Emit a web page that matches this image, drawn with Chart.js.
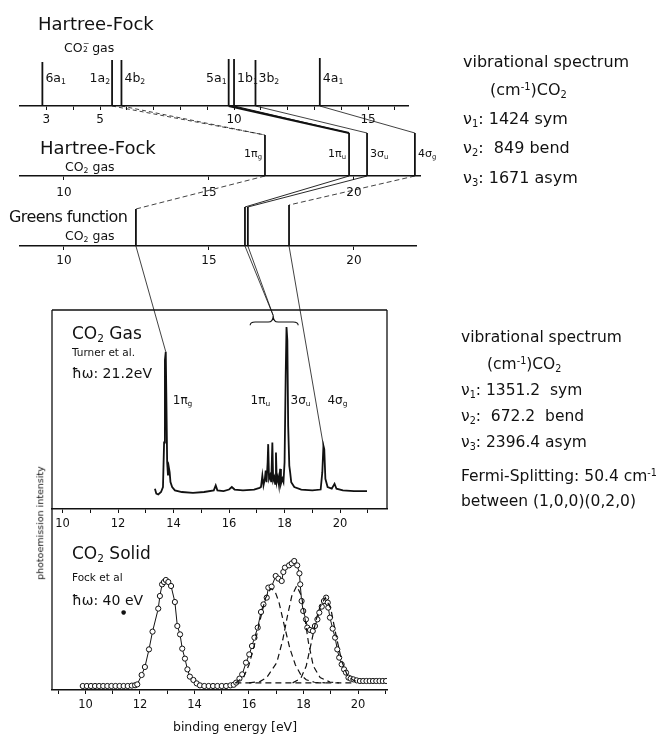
<!DOCTYPE html>
<html><head><meta charset="utf-8"><title>CO2 photoemission</title>
<script src="https://cdn.jsdelivr.net/npm/chart.js@4.4.1/dist/chart.umd.min.js"></script>
<style>
html,body{margin:0;padding:0;background:#fff;}
#wrap{position:relative;width:671px;height:735px;overflow:hidden;font-family:"DejaVu Sans",sans-serif;color:#111;}
#wrap canvas{position:absolute;left:0;top:0;}
.t{position:absolute;white-space:nowrap;line-height:1;transform:translateY(-50%);}
.t.r{transform:translate(-100%,-50%);}
.t sub{font-size:0.62em;vertical-align:-0.3em;line-height:0;}
.t sup{font-size:0.62em;vertical-align:0.55em;line-height:0;}
.st{display:inline-block;position:relative;width:0.45em;height:1em;vertical-align:top;}
.st i{font-style:normal;position:absolute;left:0.04em;font-size:0.62em;line-height:1;}
</style></head><body>
<div id="wrap">
<canvas id="p1" width="671" height="735"></canvas>
<canvas id="p2" width="671" height="735"></canvas>
<canvas id="p3" width="671" height="735"></canvas>
<canvas id="p4" width="671" height="735"></canvas>
<canvas id="p5" width="671" height="735"></canvas>
<canvas id="ov" width="671" height="735"></canvas>
</div>
<script>
// ---------------- DATA ----------------
// Hartree-Fock, CO2- gas (eV)
const anionLevels   = ['6a1','1a2','4b2','5a1','1b1','3b2','4a1'];
const anionEnergies = [2.85, 5.45, 5.8, 9.8, 10.0, 10.8, 13.2];
const anionHeights  = [44, 46, 46, 47, 47, 46, 48];
const anionTickLabels = [3, 5, 10, 15];
// Hartree-Fock, CO2 gas
const hfLevels   = ['1πg','1πu','3σu','4σg'];
const hfEnergies = [16.93, 19.83, 20.45, 22.10];
const hfHeights  = [41, 43, 43, 43];
const hfTickLabels = [10, 15, 20];
// Greens function, CO2 gas
const gfEnergies = [12.48, 16.24, 16.34, 17.76];
const gfHeights  = [37, 39, 39, 41];
// correlation lines
const anionToHF = [null, 0, 0, 1, 1, 2, 3];
const hfToGF    = [0, 1, 2, 3];
const gfToGasE  = [13.72, 17.59, 17.59, 19.40];
const gasTargetI = [85, 107, 107, 28];
// CO2 gas spectrum (Turner et al., 21.2 eV)
const gasE = [13.33,13.38,13.45,13.55,13.62,13.66,13.69,13.72,13.74,13.77,13.80,13.83,13.86,13.89,13.95,14.05,14.3,14.7,15.1,15.45,15.52,15.58,15.8,16.0,16.1,16.2,16.5,16.9,17.1,17.15,17.20,17.24,17.29,17.32,17.35,17.39,17.41,17.44,17.48,17.52,17.56,17.59,17.63,17.66,17.69,17.72,17.76,17.80,17.84,17.87,17.92,17.96,18.00,18.04,18.07,18.10,18.13,18.17,18.20,18.24,18.35,18.6,19.0,19.3,19.36,19.40,19.43,19.47,19.55,19.7,19.8,19.87,20.1,20.5,20.97];
const gasI = [2,-1,-1.5,0,3,30,80,85,60,18,10,15,12,6,3,1,0,-0.5,0,1,4,1,0.5,1.5,3,1.5,1,1.5,2.5,3,10,4,8,13,6,18,29,8,10,6,30,7,9,5,24,6,9,4,14,5,8,6,18,70,100,92,40,16,12,6,3,1.5,1,1.5,12,28,26,8,3,2,5,2,1,0.5,0.5];
const gasPeakE = [13.72, 17.41, 18.07, 19.40];
const gasPeakNames = ['1πg','1πu','3σu','4σg'];
const gasTickLabels = [10,12,14,16,18,20];
const braceE = [16.76, 17.59, 18.49];
const braceI = [101, 103, 107];
// CO2 solid spectrum (Fock et al, 40 eV)
const solidE = [9.90,10.05,10.20,10.35,10.50,10.65,10.80,10.95,11.10,11.25,11.40,11.55,11.70,11.82,
11.90,12.06,12.18,12.33,12.46,12.67,12.73,12.81,12.88,12.95,13.04,13.14,13.28,13.37,13.47,13.55,13.65,13.74,13.83,13.96,14.08,
14.20,14.36,14.52,14.68,14.84,15.00,15.16,15.32,15.44,
15.53,15.65,15.75,15.89,16.01,16.11,16.20,16.32,16.44,16.53,16.65,16.71,16.83,16.98,17.08,17.20,17.26,17.32,17.47,17.57,17.66,
17.77,17.85,17.88,17.93,17.99,18.09,18.14,18.24,18.34,18.42,18.51,18.58,18.67,18.75,18.83,18.89,18.91,18.97,19.07,19.16,19.24,19.31,19.40,19.49,19.56,19.65,19.73,19.83,
19.95,20.07,20.19,20.31,20.43,20.55,20.67,20.79,20.91,21.03];
const solidI = [0,0,0,0,0,0,0,0,0,0,0,0,0.3,0.6,
1.3,8.8,15.2,29.3,43.5,61.9,72,81.3,83.2,84.8,83.2,80,67.2,48,41.3,29.9,21.9,13.3,7.5,4.8,2.1,
0.5,0,0,0,0,0,0,0.5,1,
2.7,5.9,9.3,18.7,25.3,32,38.7,46.7,59.2,65.3,70.7,78.7,79.5,88,85.9,84,91.2,94.7,96.5,98.1,100,
96.5,90.1,81.3,68,60,53.3,46.7,44.8,44,48,53.3,58.7,63.5,68,70.7,66.7,62.7,54.7,45.9,38.7,29.3,22.7,17.3,13.3,10.7,6.7,5.9,5.3,
4.5,4,4,4,4,4,4,4,4,4];
const compAE = [15.5,15.8,16.0,16.2,16.4,16.6,16.8,16.95,17.1,17.3,17.5,17.7,17.9,18.1,18.4,18.8];
const compAI = [2.5,7,17,33,52,70,78,76,67,48,30,17,9,5,3,2.5];
const compBE = [16.0,16.4,16.65,17.02,17.24,17.41,17.57,17.75,17.93,18.06,18.18,18.36,18.61,18.97,19.3];
const compBI = [2.5,3.5,6.7,18.7,37,56,72,80,72,53,35,16,6.7,3.2,2.5];
const compCE = [17.6,17.9,18.1,18.3,18.45,18.6,18.8,19.0,19.2,19.4,19.6,19.8,20.0];
const compCI = [2.5,6,16,36,52,63,70.7,62,40,20,9,5,3];
const baseE = [15.5, 19.9];
const baseI = [2.5, 2.5];
const solidTickLabels = [10,12,14,16,18,20];

// ---------------- LAYOUT / HELPERS ----------------
const W = 671, H = 735, INK = '#111';
Chart.defaults.font.family = '"DejaVu Sans", sans-serif';
Chart.defaults.color = INK;
const wrap = document.getElementById('wrap');
const zip = (xs, ys) => xs.map((x, i) => ({x, y: ys[i]}));
const sub = n => n.slice(0, -1) + '<sub>' + n.slice(-1) + '</sub>';

function txt(x, y, size, html, o) {
  o = o || {};
  const d = document.createElement('div');
  d.className = 't' + (o.right ? ' r' : '');
  d.style.left = x + 'px'; d.style.top = y + 'px'; d.style.fontSize = size + 'px';
  if (o.ls) d.style.letterSpacing = o.ls + 'px';
  if (o.rot) d.style.transform = 'translate(-50%,-50%) rotate(-90deg)';
  d.innerHTML = html;
  wrap.appendChild(d);
  return d;
}

const framePlugin = {
  id: 'frame',
  afterDraw(chart, args, opts) {
    if (!opts || !opts.sides) return;
    const {ctx, chartArea: a} = chart;
    ctx.save(); ctx.strokeStyle = INK; ctx.lineWidth = 1.3;
    ctx.beginPath();
    if (opts.sides.includes('t')) { ctx.moveTo(a.left, a.top); ctx.lineTo(a.right, a.top); }
    if (opts.sides.includes('l')) { ctx.moveTo(a.left, a.top); ctx.lineTo(a.left, a.bottom); }
    if (opts.sides.includes('r')) { ctx.moveTo(a.right, a.top); ctx.lineTo(a.right, a.bottom); }
    ctx.stroke(); ctx.restore();
  }
};
const bracePlugin = {
  id: 'brace',
  afterDraw(chart, args, opts) {
    if (!opts || !opts.on) return;
    const {ctx, scales: {x, y}} = chart;
    const xl = x.getPixelForValue(braceE[0]), xc = x.getPixelForValue(braceE[1]), xr = x.getPixelForValue(braceE[2]);
    const ye = y.getPixelForValue(braceI[0]), ym = y.getPixelForValue(braceI[1]), yt = y.getPixelForValue(braceI[2]);
    ctx.save(); ctx.strokeStyle = INK; ctx.lineWidth = 1.1;
    ctx.beginPath();
    ctx.moveTo(xl, ye); ctx.quadraticCurveTo(xl, ym, xl + 5, ym);
    ctx.lineTo(xc - 5, ym); ctx.quadraticCurveTo(xc, ym, xc, yt);
    ctx.quadraticCurveTo(xc, ym, xc + 5, ym);
    ctx.lineTo(xr - 5, ym); ctx.quadraticCurveTo(xr, ym, xr, ye);
    ctx.stroke(); ctx.restore();
  }
};

function panel(id, area, xr, yr, datasets, ax) {
  return new Chart(document.getElementById(id), {
    type: 'scatter',
    data: {datasets},
    options: {
      responsive: false, animation: false, devicePixelRatio: 1, events: [],
      layout: {padding: {left: area.l, right: W - area.r, top: area.t, bottom: H - area.b - ax.h}},
      plugins: {legend: {display: false}, tooltip: {enabled: false}, frame: {sides: area.frame || ''}, brace: {on: !!area.brace}},
      scales: {
        x: {type: 'linear', min: xr[0], max: xr[1], position: 'bottom',
            afterFit: s => { s.height = ax.h; },
            border: {display: true, color: INK, width: ax.bw},
            grid: {display: true, drawOnChartArea: false, drawTicks: true, tickLength: 4, color: INK, lineWidth: 1},
            ticks: {stepSize: ax.step, includeBounds: false, autoSkip: false, maxRotation: 0, padding: ax.pad,
                    font: {size: ax.fs}, color: INK,
                    callback: v => ax.labels.includes(v) ? String(v) : ''}},
        y: {type: 'linear', min: yr[0], max: yr[1], display: false}
      }
    },
    plugins: [framePlugin, bracePlugin]
  });
}
const levelSets = (E, Hh) => E.map((e, i) => ({data: [{x: e, y: 0}, {x: e, y: Hh[i]}], showLine: true,
  borderColor: INK, borderWidth: 1.8, pointRadius: 0}));

// ---------------- PANELS ----------------
const c1 = panel('p1', {l: 20, r: 408, t: 50, b: 106}, [2.015, 16.49], [0, 56],
  levelSets(anionEnergies, anionHeights), {h: 22, bw: 1.6, step: 1, pad: 3, fs: 12, labels: anionTickLabels});
const c2 = panel('p2', {l: 20, r: 420, t: 125, b: 176}, [8.483, 22.276], [0, 51],
  levelSets(hfEnergies, hfHeights), {h: 22, bw: 1.6, step: 5, pad: 6, fs: 12, labels: hfTickLabels});
const c3 = panel('p3', {l: 20, r: 416, t: 195, b: 246}, [8.483, 22.138], [0, 51],
  levelSets(gfEnergies, gfHeights), {h: 22, bw: 1.6, step: 5, pad: 4, fs: 12, labels: hfTickLabels});
const c4 = panel('p4', {l: 52, r: 387, t: 310, b: 509, frame: 'tlr', brace: true}, [9.622, 21.69], [-10.3, 110.3],
  [{data: zip(gasE, gasI), showLine: true, borderColor: INK, borderWidth: 1.8, pointRadius: 0, tension: 0}],
  {h: 22, bw: 1.5, step: 1, pad: 4, fs: 11.5, labels: gasTickLabels});
const dash = (E, I) => ({data: zip(E, I), showLine: true, borderColor: INK, borderWidth: 1.2, borderDash: [6, 4], pointRadius: 0});
const c5 = panel('p5', {l: 52, r: 387, t: 509, b: 690, frame: 'l'}, [8.771, 21.064], [-3.2, 141.6],
  [dash(compAE, compAI), dash(compBE, compBI), dash(compCE, compCI), dash(baseE, baseI),
   {data: zip(solidE, solidI), showLine: true, borderColor: INK, borderWidth: 1, pointRadius: 2.6,
    pointBackgroundColor: '#fff', pointBorderColor: INK, pointBorderWidth: 1, tension: 0}],
  {h: 22, bw: 1.5, step: 1, pad: 4, fs: 11.5, labels: solidTickLabels});

// ---------------- CORRELATION LINES (overlay) ----------------
const P = (c, x, y) => ({x: c.scales.x.getPixelForValue(x), y: c.scales.y.getPixelForValue(y)});
const conns = [];
const anionStyle = [null, [[4, 3], 0.8], [[4, 3], 0.8], [[], 1.8], [[], 1.1], [[], 0.8], [[], 0.8]];
anionToHF.forEach((j, i) => { if (j === null) return;
  conns.push({pts: [P(c1, anionEnergies[i], 0), P(c2, hfEnergies[j], hfHeights[j])], dash: anionStyle[i][0], w: anionStyle[i][1]}); });
const hfStyle = [[[5, 3], 0.8], [[], 0.9], [[], 0.9], [[5, 3], 0.8]];
hfToGF.forEach((j, i) => conns.push({pts: [P(c2, hfEnergies[i], 0), P(c3, gfEnergies[j], gfHeights[j])], dash: hfStyle[i][0], w: hfStyle[i][1]}));
gfEnergies.forEach((e, i) => conns.push({pts: [P(c3, e, 0), P(c4, gfToGasE[i], gasTargetI[i])], dash: [], w: 0.8}));
new Chart(document.getElementById('ov'), {
  type: 'scatter',
  data: {datasets: conns.map(c => ({data: c.pts, showLine: true, borderColor: INK, borderWidth: c.w, borderDash: c.dash, pointRadius: 0}))},
  options: {responsive: false, animation: false, devicePixelRatio: 1, events: [],
    layout: {padding: 0},
    plugins: {legend: {display: false}, tooltip: {enabled: false}},
    scales: {x: {type: 'linear', min: 0, max: W, display: false}, y: {type: 'linear', min: 0, max: H, reverse: true, display: false}}}
});

// ---------------- TEXT ----------------
const anionSide = ['R', 'L', 'R', 'L', 'R', 'R', 'R'];
anionLevels.forEach((n, i) => {
  const p = P(c1, anionEnergies[i], 28);
  if (anionSide[i] === 'R') txt(p.x + 3, p.y, 12.5, sub(n)); else txt(p.x - 2, p.y, 12.5, sub(n), {right: true});
});
const hfSide = ['L', 'L', 'R', 'R'];
hfLevels.forEach((n, i) => {
  const p = P(c2, hfEnergies[i], 23);
  if (hfSide[i] === 'R') txt(p.x + 3, p.y, 11, sub(n)); else txt(p.x - 3, p.y, 11, sub(n), {right: true});
});
const gasSide = [[7, 'R'], [2, 'L'], [4, 'R'], [4, 'R']];
gasPeakNames.forEach((n, i) => {
  const p = P(c4, gasPeakE[i], 55.5);
  if (gasSide[i][1] === 'R') txt(p.x + gasSide[i][0], p.y, 12, sub(n)); else txt(p.x + gasSide[i][0], p.y, 12, sub(n), {right: true});
});

const CO2m = 'CO<span class="st"><i style="top:-0.2em">−</i><i style="top:0.55em">2</i></span>';
txt(38, 24, 18, 'Hartree-Fock');
txt(64, 48, 12.5, CO2m + ' gas');
txt(40, 148, 18, 'Hartree-Fock');
txt(65, 167, 12.5, 'CO<sub>2</sub> gas');
txt(9, 217, 16, 'Greens function', {ls: -0.6});
txt(65, 236, 12.5, 'CO<sub>2</sub> gas');

txt(463, 62, 16, 'vibrational spectrum');
txt(490, 90, 16, '(cm<sup>-1</sup>)CO<sub>2</sub>');
txt(463, 119, 16, 'ν<sub>1</sub>: 1424 sym');
txt(463, 148, 16, 'ν<sub>2</sub>: &nbsp;849 bend');
txt(463, 178, 16, 'ν<sub>3</sub>: 1671 asym');

txt(461, 338, 15.5, 'vibrational spectrum');
txt(487, 365, 15.5, '(cm<sup>-1</sup>)CO<sub>2</sub>');
txt(461, 391, 15.5, 'ν<sub>1</sub>: 1351.2 &nbsp;sym');
txt(461, 417, 15.5, 'ν<sub>2</sub>: &nbsp;672.2 &nbsp;bend');
txt(461, 443, 15.5, 'ν<sub>3</sub>: 2396.4 asym');
txt(461, 477, 15.5, 'Fermi-Splitting: 50.4 cm<sup>-1</sup>');
txt(461, 502, 15.5, 'between (1,0,0)(0,2,0)');

txt(72, 333, 17, 'CO<sub>2</sub> Gas');
txt(72, 352, 10.5, 'Turner et al.');
txt(72, 373, 14, 'ħω: 21.2eV');
txt(72, 553, 17, 'CO<sub>2</sub> Solid');
txt(72, 577, 10.5, 'Fock et al');
txt(72, 600, 14, 'ħω: 40 eV');
txt(121, 612, 6, '●');
txt(40, 523, 9.5, 'photoemission intensity', {rot: true});
txt(235, 727, 12.5, 'binding energy [eV]', {rot: false}).style.transform = 'translate(-50%,-50%)';
</script>
</body></html>
